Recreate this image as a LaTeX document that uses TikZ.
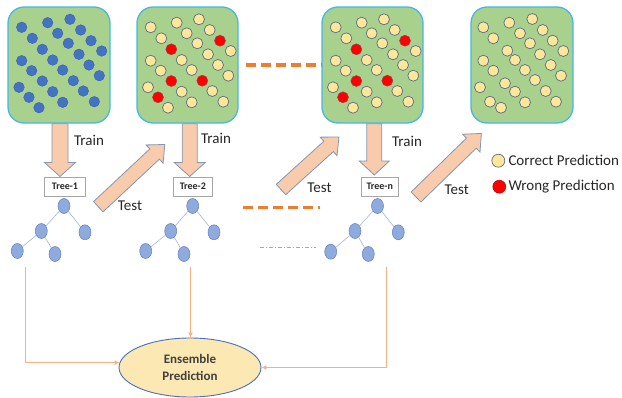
\documentclass[tikz,border=0pt]{standalone}
\usepackage{fontspec}
\setmainfont{Carlito}
\usetikzlibrary{calc,arrows.meta,shapes.geometric}

\definecolor{panelgreen}{HTML}{A9D18E}
\definecolor{panelline}{HTML}{45B8E4}
\definecolor{dotblue}{HTML}{4472C4}
\definecolor{dotblueline}{HTML}{3A62AE}
\definecolor{dotyellow}{HTML}{FFE699}
\definecolor{dotline}{HTML}{5A6B8C}
\definecolor{dotred}{HTML}{FF0000}
\definecolor{peach}{HTML}{F8CBAD}
\definecolor{peachline}{HTML}{8497B0}
\definecolor{treefill}{HTML}{8FAADC}
\definecolor{treeline}{HTML}{5F82C4}
\definecolor{treeedge}{HTML}{A3B5DA}
\definecolor{dashorange}{HTML}{ED7D31}
\definecolor{linkorange}{HTML}{F4B183}
\definecolor{ensfill}{HTML}{FBE8B2}
\definecolor{ensline}{HTML}{4A6FB8}
\definecolor{txt}{HTML}{262626}

% block arrow from #1 (tail centre) to #2 (tip); #3 shaft half width, #4 head half width
\newcommand\blockarrow[4]{%
  \path (#1) coordinate (ba-s) (#2) coordinate (ba-e);
  \pgfpointdiff{\pgfpointanchor{ba-s}{center}}{\pgfpointanchor{ba-e}{center}}%
  \pgfgetlastxy\bax\bay
  \pgfmathsetmacro\baang{atan2(\bay,\bax)}%
  \pgfmathsetmacro\balen{veclen(\bax,\bay)}%
  \pgfmathsetmacro\babase{\balen-14}%
  \begin{scope}[shift={(ba-s)}, rotate=\baang]
    \draw[blockarr] (0,-#3) -- (\babase,-#3) -- (\babase,-#4) -- (\balen,0)
      -- (\babase,#4) -- (\babase,#3) -- (0,#3) -- cycle;
  \end{scope}}

\tikzset{
  panel/.style={draw=panelline, line width=1.3pt, fill=panelgreen,
    rounded corners=16pt, minimum width=#1, minimum height=116pt, inner sep=0pt},
  bdot/.style={circle, fill=dotblue, draw=dotblueline, line width=0.4pt,
    minimum size=10.6pt, inner sep=0pt},
  ydot/.style={circle, fill=dotyellow, draw=dotline, line width=0.7pt,
    minimum size=11pt, inner sep=0pt},
  rdot/.style={circle, fill=dotred, draw=dotline!60!red, line width=0.5pt,
    minimum size=11pt, inner sep=0pt},
  blockarr/.style={fill=peach, draw=peachline, line width=0.8pt, line join=miter},
  lbl/.style={text=txt, font=\fontsize{15}{18}\selectfont, inner sep=0pt},
  treebox/.style={draw=black!35, fill=white, line width=0.6pt, minimum width=#1,
    minimum height=19pt, inner sep=0pt, text=txt,
    font=\bfseries\fontsize{10}{12}\selectfont},
  tnode/.style={ellipse, fill=treefill, draw=treeline, line width=0.5pt,
    minimum width=12pt, minimum height=15pt, inner sep=0pt},
  tedge/.style={draw=treeedge, line width=0.6pt},
  orangedash/.style={draw=dashorange, line width=3.6pt, dash pattern=on 10pt off 5pt},
  bluedashdot/.style={draw=treefill, line width=0.9pt,
    dash pattern=on 4pt off 2pt on 1pt off 2pt},
  link/.style={draw=linkorange, line width=1.1pt,
    -{Latex[length=5pt,width=5pt]}},
}

\begin{document}
\begin{tikzpicture}[x=1pt, y=-1pt]
\useasboundingbox (0,0) rectangle (622,397);

% data panels
\node[panel=102pt] (p1) at (59,65) {};
\node[panel=101pt] (p2) at (187.5,65) {};
\node[panel=101pt] (p3) at (372.5,65) {};
\node[panel=102pt] (p4) at (522,65) {};

% common dot layout (panel 1 position); letter r marks a wrong prediction
\def\dotlist{21.7/27.3/n, 47.7/22.7/n, 70/19.3/n, 32.3/38.3/n, 57.7/33.3/n,
  80.7/30/n, 42.3/49.3/r, 68.3/43.3/n, 91/40.7/r, 101.7/51/n, 21.7/60.7/n,
  52.7/60/n, 79/54.3/n, 31.7/70.7/n, 62.7/70/n, 89/65/n, 99.3/75.7/n,
  42.3/81/r, 73.3/80.7/r, 19/87.3/n, 52.7/91.7/n, 83.3/91/n, 29/97.3/r,
  62.7/102.3/n, 94.3/101.7/n, 39/107.7/n}

\foreach \x/\y/\k in \dotlist {
  \node[bdot] at (\x,\y) {};
}
\foreach \dx in {129,314} {
  \foreach \x/\y/\k in \dotlist {
    \if r\k \node[rdot] at (\x+\dx,\y) {};
    \else \node[ydot] at (\x+\dx,\y) {};
    \fi
  }
}
\foreach \x/\y in {483.3/27.3, 509.3/22.7, 532.3/19, 493.3/38.3, 520/33.3,
  542.7/30, 530/43.3, 552.7/40.7, 563.3/51, 507.3/50.7, 515/60, 540/54.3,
  483.3/60.7, 493.3/70.7, 525/70, 550.7/65, 561/75.7, 505/83.3, 515/91.7,
  535/80, 480/87.3, 545.7/91, 490/101.7, 501/107.7, 525/102.3, 556/101.7} {
  \node[ydot] at (\x,\y) {};
}

% tree labels
\node[treebox=41pt] (t1) at (65,186.7) {Tree-1};
\node[treebox=39pt] (t2) at (192.8,186.7) {Tree-2};
\node[treebox=37pt] (tn) at (379.7,186.7) {Tree-n};

% train arrows
\coordinate (tr1a) at (p1.south -| 60,0);
\coordinate (tr1b) at (60,176.5);
\coordinate (tr2a) at (p2.south -| 189.7,0);
\coordinate (tr2b) at (189.7,176.5);
\coordinate (tr3a) at (p3.south -| 374.3,0);
\coordinate (tr3b) at (374.3,175);
\blockarrow{tr1a}{tr1b}{8}{15.5}
\blockarrow{tr2a}{tr2b}{7.5}{15.5}
\blockarrow{tr3a}{tr3b}{7.5}{15}

% test arrows
\coordinate (ts1a) at (98.3,206.7);
\coordinate (ts1b) at (165,144.3);
\coordinate (ts2a) at (281,189.5);
\coordinate (ts2b) at (339,137);
\coordinate (ts3a) at (416,197);
\coordinate (ts3b) at (481.5,133.3);
\blockarrow{ts1a}{ts1b}{7}{12.5}
\blockarrow{ts2a}{ts2b}{7}{12.5}
\blockarrow{ts3a}{ts3b}{7}{12.5}

\node[lbl] (lt1) at (89,140) {Train};
\node[lbl] (lt2) at (216,138.3) {Train};
\node[lbl] (lt3) at (407,141.7) {Train};
\node[lbl] (ls1) at (130,205.7) {Test};
\node[lbl] (ls2) at (319.5,187.7) {Test};
\node[lbl] (ls3) at (456.7,189.6) {Test};

% decision trees
\foreach \t/\rx/\lx/\rrx/\llx/\lrx/\lly in
  {a/64/41.3/85/17.3/55/251, b/192.7/170.7/214/145.7/184/251,
   c/377.5/355/398.3/330.7/368.3/251.7} {
  \node[tnode] (\t-root) at (\rx,206) {};
  \node[tnode] (\t-l) at (\lx,231) {};
  \node[tnode] (\t-r) at (\rrx,232.3) {};
  \node[tnode] (\t-ll) at (\llx,\lly) {};
  \node[tnode] (\t-lr) at (\lrx,254) {};
  \path[tedge] (\t-root) -- (\t-l) (\t-root) -- (\t-r)
               (\t-l) -- (\t-ll) (\t-l) -- (\t-lr);
}

% elided trees and data sets
\coordinate (d1a) at (245.7,65);
\draw[orangedash] (d1a) -- (p3.west |- d1a);
\coordinate (d2a) at (243.3,207.3);
\coordinate (d2b) at (320,207.3);
\draw[orangedash] (d2a) -- (d2b);
\coordinate (d3a) at (260,247.7);
\coordinate (d3b) at (316,247.7);
\draw[bluedashdot] (d3a) -- (d3b);

% legend
\node[ydot, minimum size=13pt] (lgy) at (498.3,160.7) {};
\node[rdot, minimum size=13pt, draw=dotred!70!black] (lgr) at (499.3,186.7) {};
\node[lbl, anchor=west] at (508.3,160.7) {Correct Prediction};
\node[lbl, anchor=west] at (508.3,186.7) {Wrong Prediction};

% ensemble
\node[ellipse, draw=ensline, line width=0.9pt, fill=ensfill, minimum width=142pt,
  minimum height=59pt, inner sep=0pt, align=center, text=black!75,
  font=\bfseries\fontsize{13}{17.5}\selectfont] (ens) at (190,367.5)
  {Ensemble\\Prediction};

\coordinate (c1) at (25.7,267.3);
\coordinate (c2) at (190.5,267.3);
\coordinate (c3) at (386.7,267.3);
\draw[link] (c1) |- (ens.176);
\draw[link] (c2) -- (ens.north -| c2);
\draw[link] (c3) |- (ens.east);
\end{tikzpicture}
\end{document}
